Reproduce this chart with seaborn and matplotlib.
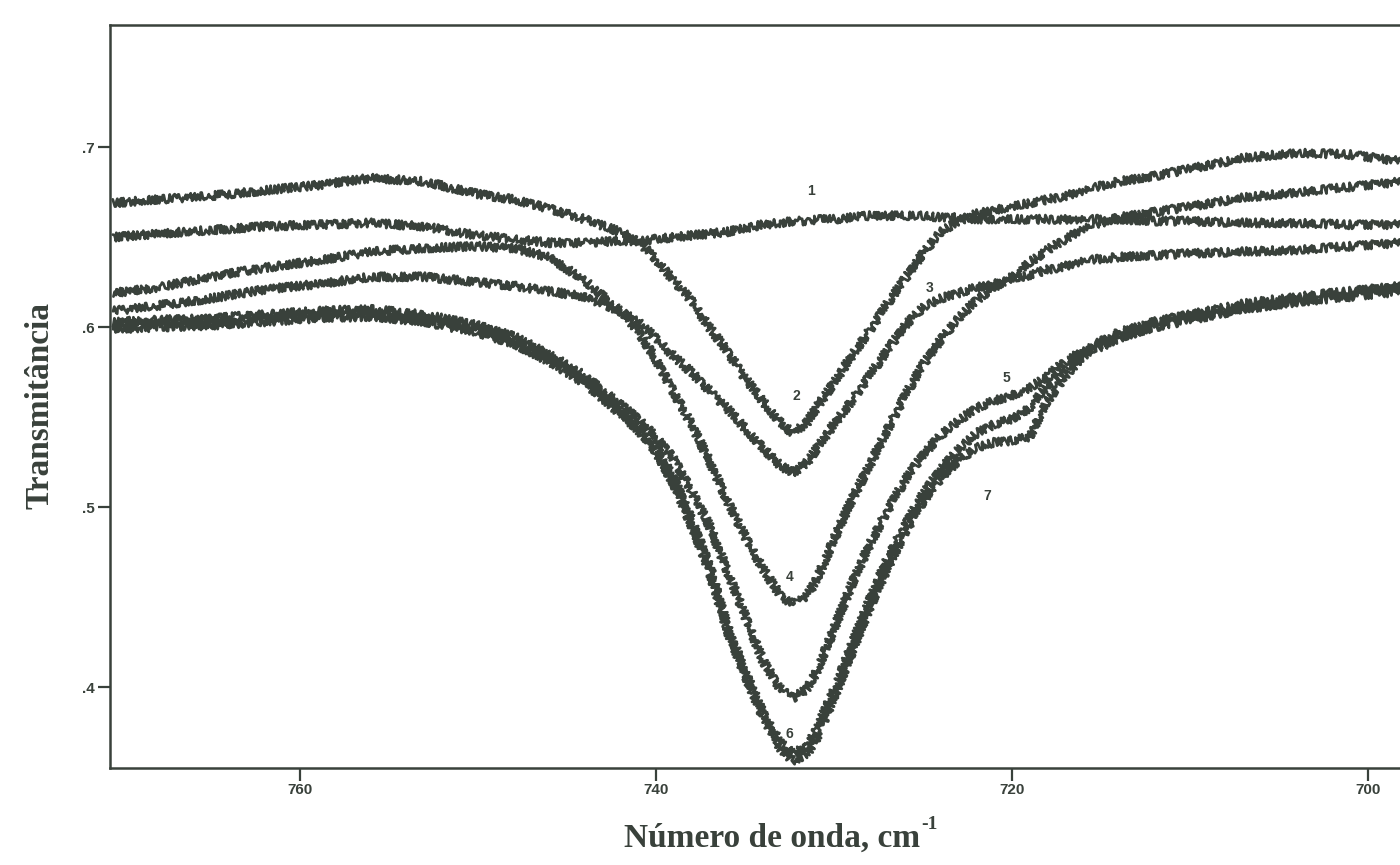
import matplotlib
matplotlib.use("Agg")
import matplotlib.pyplot as plt
import pandas as pd
import seaborn as sns

# Wavenumber grid (cm-1) shared by all spectra
wavenumber = [770.5, 768, 765, 762, 759, 756, 753, 750, 748, 746, 744, 742, 741, 740,
              739, 738, 737, 736, 735, 734, 733, 732.3, 731.5, 731, 730, 729, 728, 727,
              726, 725, 724, 723, 722, 721, 720, 719, 718, 717, 716, 714, 712, 710,
              707, 704, 701, 698]

# Transmittance of each spectrum on that grid
spectrum_1 = [0.650, 0.652, 0.654, 0.656, 0.657, 0.658, 0.656, 0.651, 0.649, 0.647,
              0.647, 0.648, 0.648, 0.649, 0.650, 0.651, 0.652, 0.653, 0.655, 0.657,
              0.658, 0.659, 0.659, 0.660, 0.660, 0.661, 0.662, 0.662, 0.662, 0.662,
              0.661, 0.661, 0.660, 0.660, 0.660, 0.660, 0.660, 0.660, 0.660, 0.660,
              0.659, 0.659, 0.658, 0.658, 0.657, 0.657]
spectrum_2 = [0.669, 0.671, 0.673, 0.676, 0.679, 0.683, 0.681, 0.674, 0.671, 0.666,
              0.660, 0.653, 0.648, 0.638, 0.626, 0.615, 0.600, 0.587, 0.572, 0.559,
              0.547, 0.541, 0.547, 0.555, 0.569, 0.584, 0.598, 0.613, 0.627, 0.641,
              0.653, 0.659, 0.663, 0.665, 0.667, 0.669, 0.671, 0.673, 0.676, 0.681,
              0.684, 0.688, 0.694, 0.697, 0.696, 0.692]
spectrum_3 = [0.609, 0.612, 0.616, 0.621, 0.624, 0.628, 0.628, 0.625, 0.623, 0.620,
              0.617, 0.609, 0.603, 0.594, 0.584, 0.575, 0.565, 0.555, 0.544, 0.533,
              0.523, 0.519, 0.525, 0.532, 0.546, 0.559, 0.573, 0.587, 0.601, 0.611,
              0.616, 0.619, 0.622, 0.624, 0.627, 0.629, 0.632, 0.634, 0.637, 0.639,
              0.640, 0.641, 0.642, 0.643, 0.645, 0.647]
spectrum_4 = [0.619, 0.622, 0.628, 0.633, 0.637, 0.642, 0.644, 0.645, 0.644, 0.639,
              0.626, 0.609, 0.598, 0.582, 0.564, 0.546, 0.526, 0.504, 0.484, 0.466,
              0.451, 0.446, 0.451, 0.459, 0.482, 0.504, 0.523, 0.543, 0.562, 0.579,
              0.593, 0.605, 0.615, 0.622, 0.628, 0.636, 0.643, 0.649, 0.655, 0.661,
              0.664, 0.667, 0.672, 0.675, 0.678, 0.681]
spectrum_5 = [0.603, 0.604, 0.605, 0.607, 0.609, 0.610, 0.607, 0.601, 0.595, 0.585,
              0.573, 0.557, 0.549, 0.539, 0.527, 0.509, 0.490, 0.465, 0.440, 0.415,
              0.399, 0.394, 0.399, 0.408, 0.432, 0.457, 0.479, 0.498, 0.515, 0.529,
              0.540, 0.548, 0.555, 0.559, 0.562, 0.566, 0.573, 0.581, 0.587, 0.597,
              0.603, 0.607, 0.613, 0.617, 0.620, 0.623]
spectrum_6 = [0.601, 0.602, 0.603, 0.605, 0.607, 0.608, 0.605, 0.599, 0.593, 0.583,
              0.571, 0.554, 0.546, 0.534, 0.516, 0.493, 0.468, 0.434, 0.409, 0.386,
              0.369, 0.363, 0.367, 0.376, 0.398, 0.423, 0.448, 0.471, 0.490, 0.507,
              0.521, 0.532, 0.541, 0.546, 0.549, 0.555, 0.568, 0.577, 0.586, 0.596,
              0.601, 0.605, 0.611, 0.615, 0.618, 0.621]
spectrum_7 = [0.599, 0.600, 0.601, 0.603, 0.605, 0.606, 0.603, 0.597, 0.591, 0.581,
              0.569, 0.552, 0.543, 0.531, 0.513, 0.490, 0.465, 0.432, 0.407, 0.384,
              0.366, 0.359, 0.363, 0.371, 0.394, 0.419, 0.444, 0.466, 0.486, 0.503,
              0.516, 0.526, 0.533, 0.536, 0.537, 0.539, 0.559, 0.573, 0.584, 0.594,
              0.600, 0.604, 0.610, 0.614, 0.617, 0.620]

curve_names = ["1", "2", "3", "4", "5", "6", "7"]
# Position of each curve number
label_wn = [731.3, 732.1, 724.6, 732.5, 720.3, 732.5, 721.4]
label_t = [0.676, 0.562, 0.622, 0.461, 0.572, 0.374, 0.506]

x_ticks = [760, 740, 720, 700]
y_ticks = [0.4, 0.5, 0.6, 0.7]
y_tick_labels = [".4", ".5", ".6", ".7"]

ink = "#39413b"

sns.set_theme(style="white")
plt.rcParams["font.family"] = ["Liberation Serif", "DejaVu Serif"]

all_spectra = [spectrum_1, spectrum_2, spectrum_3, spectrum_4,
               spectrum_5, spectrum_6, spectrum_7]
frames = []
for name, values in zip(curve_names, all_spectra):
    frames.append(pd.DataFrame({"wn": wavenumber, "T": values, "curva": name}))
data = pd.concat(frames, ignore_index=True)

W, H = 1400, 865
fig = plt.figure(figsize=(W / 100, H / 100), dpi=100)
fig.patch.set_facecolor("white")
ax = fig.add_axes([110 / W, 1 - 768 / H, (1414 - 110) / W, (768 - 25) / H])

sns.lineplot(data=data, x="wn", y="T", hue="curva", units="curva",
             estimator=None, palette=[ink] * 7, legend=False,
             linewidth=2.0, ax=ax)

# noisy trace appearance of the recorded spectra
for line in ax.lines:
    line.set_sketch_params(scale=4.2, length=1.6, randomness=4.0)
    line.set_solid_joinstyle("round")

ax.set_xlim(770.67, 697.4)
ax.set_ylim(0.355, 0.768)

for side in ["left", "top", "bottom", "right"]:
    ax.spines[side].set_color(ink)
    ax.spines[side].set_linewidth(1.8)

ax.set_xticks(x_ticks)
ax.set_xticklabels([str(t) for t in x_ticks])
ax.set_yticks(y_ticks)
ax.set_yticklabels(y_tick_labels)
ax.tick_params(axis="both", which="major", direction="out", length=9, width=1.6,
               colors=ink, labelsize=11, pad=2, bottom=True, left=True,
               top=False, right=False)
for lab in ax.get_xticklabels() + ax.get_yticklabels():
    lab.set_fontfamily(["Liberation Sans", "DejaVu Sans"])
    lab.set_fontweight("bold")
    lab.set_color(ink)

ax.set_xlabel("")
ax.set_ylabel("")

for name, lx, ly in zip(curve_names, label_wn, label_t):
    ax.text(lx, ly, name, ha="center", va="center", fontsize=10,
            fontweight="bold", color=ink,
            family=["Liberation Sans", "DejaVu Sans"])

xlabel = fig.text(624 / W, 1 - 838 / H, "Número de onda, cm",
                  ha="left", va="center", fontsize=24, fontweight="bold", color=ink)
ax.annotate("-1", xy=(1.0, 0.95), xycoords=xlabel, xytext=(1, 0),
            textcoords="offset points", ha="left", va="center",
            fontsize=14, fontweight="bold", color=ink)
fig.text(40 / W, 1 - 405 / H, "Transmitância", rotation=90,
         ha="center", va="center", fontsize=24, fontweight="bold", color=ink)

fig.savefig("out.png", dpi=100, facecolor="white")
